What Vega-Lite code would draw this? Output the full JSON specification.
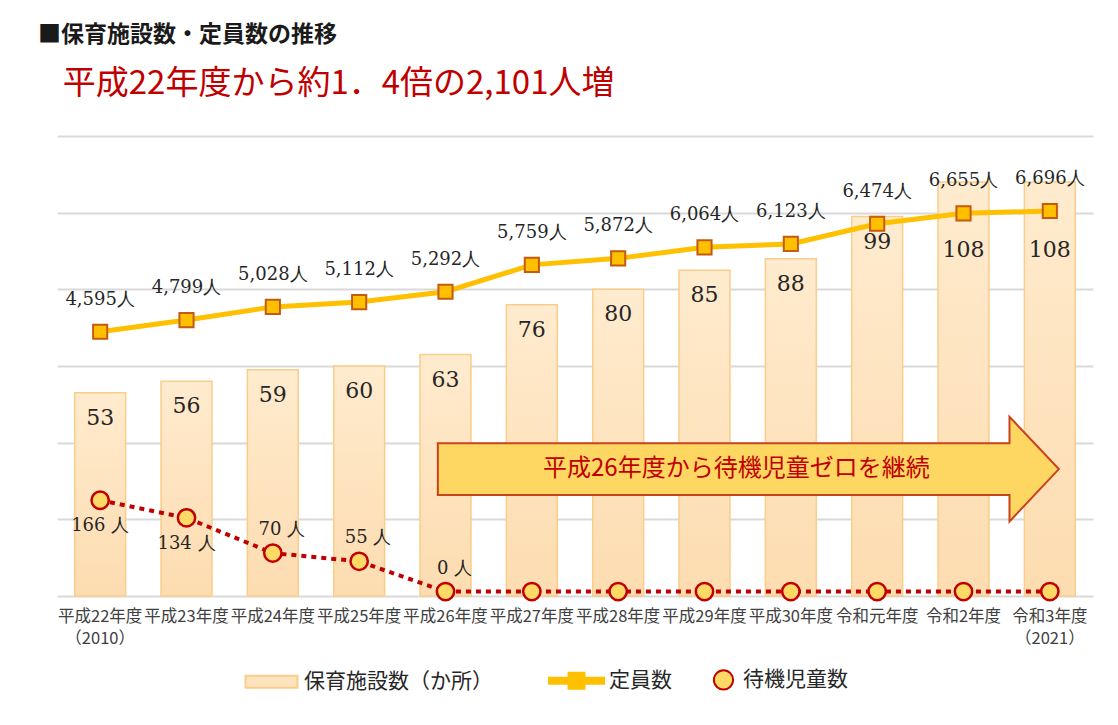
{
  "$schema": "https://vega.github.io/schema/vega-lite/v6.json",
  "width": 1036,
  "height": 460,
  "padding": {"left": 38, "top": 24, "right": 24, "bottom": 10},
  "background": "white",
  "config": {"view": {"stroke": null}, "font": "Noto Sans CJK JP"},
  "title": {
    "text": "■保育施設数・定員数の推移",
    "subtitle": "\u200B\u2002\u2005平成22年度から約1．4倍の2,101人増",
    "anchor": "start",
    "frame": "group",
    "dx": -19,
    "font": "Noto Sans CJK JP",
    "fontSize": 23,
    "fontWeight": "bold",
    "color": "#1a1a1a",
    "subtitleFont": "Noto Sans CJK JP",
    "subtitleFontSize": 33,
    "subtitleFontWeight": "normal",
    "subtitleColor": "#C00000",
    "subtitlePadding": 21,
    "offset": 35
  },
  "data": {
    "values": [
      {"年度": "平成22年度", "施設数": 53, "定員数": 4595, "定員ラベル": "4,595人", "待機児童数": 166, "待機ラベル": "166 人"},
      {"年度": "平成23年度", "施設数": 56, "定員数": 4799, "定員ラベル": "4,799人", "待機児童数": 134, "待機ラベル": "134 人"},
      {"年度": "平成24年度", "施設数": 59, "定員数": 5028, "定員ラベル": "5,028人", "待機児童数": 70, "待機ラベル": "70 人"},
      {"年度": "平成25年度", "施設数": 60, "定員数": 5112, "定員ラベル": "5,112人", "待機児童数": 55, "待機ラベル": "55 人"},
      {"年度": "平成26年度", "施設数": 63, "定員数": 5292, "定員ラベル": "5,292人", "待機児童数": 0, "待機ラベル": "0 人"},
      {"年度": "平成27年度", "施設数": 76, "定員数": 5759, "定員ラベル": "5,759人", "待機児童数": 0, "待機ラベル": ""},
      {"年度": "平成28年度", "施設数": 80, "定員数": 5872, "定員ラベル": "5,872人", "待機児童数": 0, "待機ラベル": ""},
      {"年度": "平成29年度", "施設数": 85, "定員数": 6064, "定員ラベル": "6,064人", "待機児童数": 0, "待機ラベル": ""},
      {"年度": "平成30年度", "施設数": 88, "定員数": 6123, "定員ラベル": "6,123人", "待機児童数": 0, "待機ラベル": ""},
      {"年度": "令和元年度", "施設数": 99, "定員数": 6474, "定員ラベル": "6,474人", "待機児童数": 0, "待機ラベル": ""},
      {"年度": "令和2年度", "施設数": 108, "定員数": 6655, "定員ラベル": "6,655人", "待機児童数": 0, "待機ラベル": ""},
      {"年度": "令和3年度", "施設数": 108, "定員数": 6696, "定員ラベル": "6,696人", "待機児童数": 0, "待機ラベル": ""}
    ]
  },
  "encoding": {
    "x": {
      "field": "年度",
      "type": "nominal",
      "title": null,
      "scale": {
        "domain": ["平成22年度", "平成23年度", "平成24年度", "平成25年度", "平成26年度", "平成27年度", "平成28年度", "平成29年度", "平成30年度", "令和元年度", "令和2年度", "令和3年度"],
        "paddingInner": 0.41,
        "paddingOuter": 0.205
      },
      "axis": {
        "labelAngle": 0,
        "labelFont": "Noto Sans CJK JP",
        "labelFontSize": 16.5,
        "labelColor": "#404040",
        "labelPadding": 12,
        "labelLineHeight": 22,
        "labelOverlap": false,
        "labelLimit": 0,
        "ticks": false,
        "domain": false,
        "grid": false,
        "labelExpr": "datum.value == '平成22年度' ? ['平成22年度', '（2010）'] : datum.value == '令和3年度' ? ['令和3年度', '（2021）'] : datum.value"
      }
    }
  },
  "layer": [
    {
      "mark": {
        "type": "bar",
        "opacity": 1,
        "fill": {"gradient": "linear", "x1": 0, "y1": 0, "x2": 0, "y2": 1, "stops": [{"offset": 0, "color": "#FFEBCE"}, {"offset": 1, "color": "#FDDCB0"}]},
        "stroke": "#F9CD8A",
        "strokeWidth": 1.5
      },
      "encoding": {
        "y": {
          "field": "施設数",
          "type": "quantitative",
          "scale": {"domain": [0, 120]},
          "axis": {"values": [0, 20, 40, 60, 80, 100, 120], "labels": false, "ticks": false, "domain": false, "title": null, "grid": true, "gridColor": "#D9D9D9", "gridWidth": 2, "minExtent": 0}
        }
      }
    },
    {
      "transform": [{"filter": "datum['施設数'] < 100"}],
      "mark": {"type": "text", "font": "DejaVu Serif", "fontSize": 22, "color": "#262626", "baseline": "middle", "dy": 25},
      "encoding": {
        "y": {"field": "施設数", "type": "quantitative", "scale": {"domain": [0, 120]}, "axis": null},
        "text": {"field": "施設数", "type": "quantitative"}
      }
    },
    {
      "transform": [{"filter": "datum['施設数'] >= 100"}],
      "mark": {"type": "text", "font": "DejaVu Serif", "fontSize": 22, "color": "#262626", "baseline": "middle", "dy": 68},
      "encoding": {
        "y": {"field": "施設数", "type": "quantitative", "scale": {"domain": [0, 120]}, "axis": null},
        "text": {"field": "施設数", "type": "quantitative"}
      }
    },
    {
      "mark": {"type": "line", "color": "#FFC000", "strokeWidth": 5, "opacity": 1},
      "encoding": {
        "y": {"field": "定員数", "type": "quantitative", "scale": {"domain": [0, 8000]}, "axis": null}
      }
    },
    {
      "mark": {"type": "point", "shape": "square", "filled": true, "fill": "#FFC000", "stroke": "#C55A11", "strokeWidth": 2, "size": 200, "opacity": 1},
      "encoding": {
        "y": {"field": "定員数", "type": "quantitative", "scale": {"domain": [0, 8000]}, "axis": null}
      }
    },
    {
      "mark": {"type": "text", "font": "DejaVu Serif", "fontSize": 18, "color": "#262626", "baseline": "middle", "dy": -32},
      "encoding": {
        "y": {"field": "定員数", "type": "quantitative", "scale": {"domain": [0, 8000]}, "axis": null},
        "text": {"field": "定員ラベル", "type": "nominal"}
      }
    },
    {
      "data": {"values": [{"注記": "平成26年度から待機児童ゼロを継続"}]},
      "mark": {
        "type": "point",
        "shape": "M-1,-0.0833L0.841,-0.0833L0.841,-0.1686L1,0L0.841,0.1686L0.841,0.0833L-1,0.0833Z",
        "size": 385641,
        "filled": true,
        "fill": "#FED762",
        "stroke": "#C9431E",
        "strokeWidth": 2,
        "opacity": 1
      },
      "encoding": {
        "x": {"datum": "平成30年度", "type": "nominal", "bandPosition": -0.334},
        "y": {"datum": 33.1, "type": "quantitative", "scale": {"domain": [0, 120]}, "axis": null}
      }
    },
    {
      "data": {"values": [{"注記": "平成26年度から待機児童ゼロを継続"}]},
      "mark": {"type": "text", "font": "Noto Sans CJK JP", "fontSize": 24, "color": "#C00000", "baseline": "middle", "dx": -12},
      "encoding": {
        "x": {"datum": "平成30年度", "type": "nominal", "bandPosition": -0.334},
        "y": {"datum": 33.1, "type": "quantitative", "scale": {"domain": [0, 120]}, "axis": null},
        "text": {"field": "注記", "type": "nominal"}
      }
    },
    {
      "mark": {"type": "line", "color": "#C00000", "strokeWidth": 4, "strokeDash": [5, 5], "opacity": 1},
      "encoding": {
        "y": {"field": "待機児童数", "type": "quantitative", "scale": {"domain": [-8, 828]}, "axis": null}
      }
    },
    {
      "mark": {"type": "point", "shape": "circle", "filled": true, "fill": "#FFD966", "stroke": "#C00000", "strokeWidth": 2.5, "size": 300, "opacity": 1},
      "encoding": {
        "y": {"field": "待機児童数", "type": "quantitative", "scale": {"domain": [-8, 828]}, "axis": null}
      }
    },
    {
      "transform": [{"filter": "datum['待機児童数'] > 100"}],
      "mark": {"type": "text", "font": "DejaVu Serif", "fontSize": 18, "color": "#262626", "baseline": "middle", "dy": 26},
      "encoding": {
        "y": {"field": "待機児童数", "type": "quantitative", "scale": {"domain": [-8, 828]}, "axis": null},
        "text": {"field": "待機ラベル", "type": "nominal"}
      }
    },
    {
      "transform": [{"filter": "datum['待機ラベル'] != '' && datum['待機児童数'] <= 100"}],
      "mark": {"type": "text", "font": "DejaVu Serif", "fontSize": 18, "color": "#262626", "baseline": "middle", "dy": -23, "dx": 9},
      "encoding": {
        "y": {"field": "待機児童数", "type": "quantitative", "scale": {"domain": [-8, 828]}, "axis": null},
        "text": {"field": "待機ラベル", "type": "nominal"}
      }
    },
    {
      "data": {"values": [{"系列": "保育施設数（か所）"}, {"系列": "定員数"}, {"系列": "待機児童数"}]},
      "transform": [{"filter": "false"}],
      "mark": {"type": "point", "filled": true, "opacity": 1, "strokeWidth": 2},
      "encoding": {
        "x": {"datum": "平成22年度", "type": "nominal"},
        "color": {
          "field": "系列",
          "type": "nominal",
          "scale": {"domain": ["保育施設数（か所）", "定員数", "待機児童数"], "range": ["#FEE3BF", "#FFC000", "#FFD966"]},
          "legend": {
            "orient": "none",
            "legendX": 186,
            "legendY": 515,
            "direction": "horizontal",
            "title": null,
            "symbolSize": 3025,
            "symbolStrokeWidth": 2,
            "labelFont": "Noto Sans CJK JP",
            "labelFontSize": 21,
            "labelColor": "#262626",
            "labelOffset": 4,
            "columnPadding": 10,
            "labelLimit": 400,
            "labelExpr": "datum.label == '保育施設数（か所）' ? datum.label + '\u3000\u3000\u2002\u200B' : datum.label"
          }
        },
        "stroke": {
          "field": "系列",
          "type": "nominal",
          "scale": {"domain": ["保育施設数（か所）", "定員数", "待機児童数"], "range": ["#F9CD8A", "#FFC000", "#C00000"]}
        },
        "shape": {
          "field": "系列",
          "type": "nominal",
          "scale": {
            "domain": ["保育施設数（か所）", "定員数", "待機児童数"],
            "range": [
              "M-0.945,-0.218H0.945V0.218H-0.945Z",
              "M-1,-0.109H-0.29V0.109H-1Z M0.29,-0.109H1V0.109H0.29Z M-0.29,-0.29H0.29V0.29H-0.29Z",
              "M0.822,0A0.349,0.349,0,1,1,0.124,0A0.349,0.349,0,1,1,0.822,0Z"
            ]
          }
        }
      }
    }
  ],
  "resolve": {"scale": {"y": "independent"}}
}
